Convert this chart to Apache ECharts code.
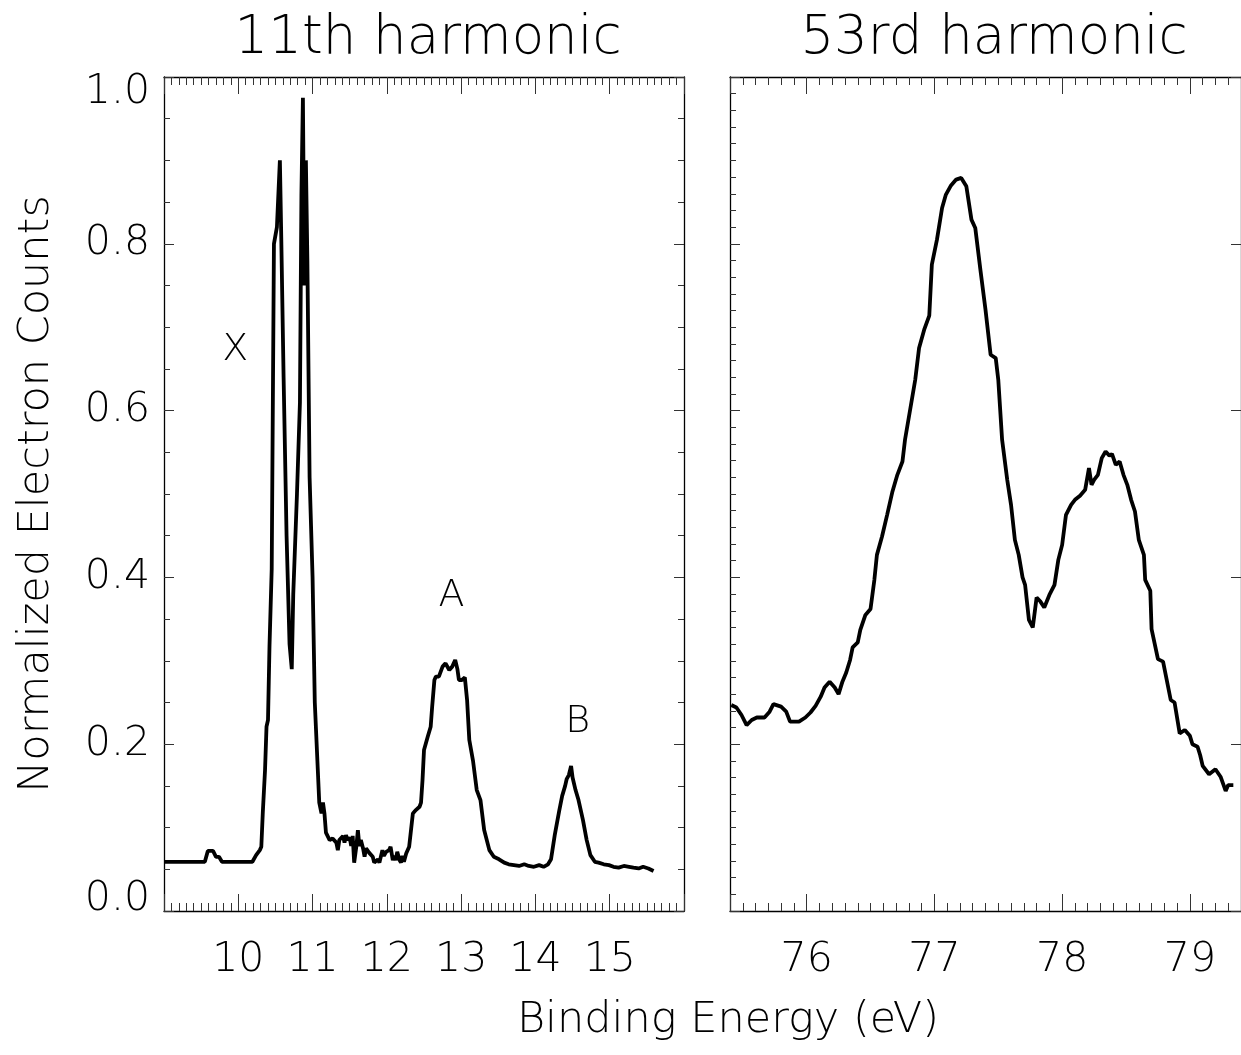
<!DOCTYPE html>
<html>
<head>
<meta charset="utf-8">
<script src="https://cdn.jsdelivr.net/npm/echarts@6/dist/echarts.min.js"></script>
<style>
html,body{margin:0;padding:0;background:#fff;}
#chart{width:1241px;height:1055px;}
</style>
</head>
<body>
<div id="chart"></div>
<script>
// ---- data ----
const panelTitles = ['11th harmonic', '53rd harmonic'];
const xAxisName = 'Binding Energy (eV)';
const yAxisName = 'Normalized Electron Counts';

const leftE = [9.00,9.55,9.59,9.66,9.70,9.74,9.78,10.19,10.24,10.29,10.31,10.33,10.36,10.38,10.40,10.42,10.45,10.48,10.52,10.56,10.58,10.61,10.65,10.69,10.72,10.74,10.79,10.83,10.85,10.87,10.89,10.91,10.93,10.96,11.00,11.03,11.07,11.09,11.12,11.14,11.16,11.18,11.23,11.27,11.32,11.34,11.36,11.41,11.43,11.45,11.47,11.50,11.52,11.54,11.56,11.59,11.61,11.63,11.65,11.68,11.70,11.72,11.76,11.81,11.83,11.88,11.90,11.94,11.96,11.99,12.03,12.05,12.08,12.10,12.12,12.14,12.17,12.19,12.21,12.23,12.26,12.30,12.32,12.35,12.39,12.44,12.46,12.48,12.50,12.55,12.59,12.61,12.64,12.66,12.70,12.75,12.79,12.84,12.88,12.92,12.95,12.97,13.01,13.05,13.08,13.11,13.16,13.21,13.26,13.31,13.38,13.44,13.51,13.58,13.64,13.71,13.78,13.85,13.91,13.98,14.05,14.11,14.17,14.21,14.26,14.32,14.36,14.40,14.42,14.45,14.48,14.50,14.54,14.58,14.64,14.69,14.74,14.80,14.85,14.92,14.99,15.05,15.12,15.19,15.26,15.32,15.39,15.45,15.52,15.59];
const leftV = [0.059,0.059,0.072,0.072,0.065,0.065,0.059,0.059,0.067,0.073,0.077,0.118,0.169,0.221,0.229,0.317,0.41,0.80,0.82,0.90,0.80,0.64,0.45,0.32,0.29,0.38,0.50,0.61,0.86,0.975,0.75,0.90,0.78,0.52,0.40,0.25,0.17,0.13,0.117,0.13,0.117,0.094,0.085,0.087,0.082,0.073,0.085,0.09,0.082,0.091,0.085,0.088,0.078,0.09,0.058,0.078,0.097,0.078,0.085,0.075,0.065,0.075,0.07,0.065,0.058,0.062,0.058,0.073,0.066,0.071,0.073,0.077,0.061,0.066,0.061,0.071,0.061,0.058,0.066,0.059,0.069,0.077,0.093,0.117,0.121,0.125,0.13,0.157,0.193,0.209,0.221,0.245,0.277,0.281,0.281,0.293,0.297,0.289,0.293,0.301,0.29,0.277,0.277,0.28,0.253,0.205,0.18,0.145,0.133,0.097,0.073,0.065,0.062,0.058,0.056,0.055,0.054,0.056,0.054,0.053,0.055,0.053,0.056,0.062,0.091,0.12,0.138,0.15,0.158,0.163,0.174,0.16,0.145,0.133,0.109,0.085,0.067,0.059,0.058,0.056,0.055,0.053,0.052,0.054,0.053,0.052,0.051,0.053,0.051,0.048];

const rightE = [75.41,75.45,75.49,75.53,75.57,75.61,75.67,75.71,75.74,75.80,75.84,75.87,75.94,75.99,76.03,76.07,76.11,76.14,76.18,76.22,76.25,76.28,76.31,76.34,76.36,76.40,76.42,76.46,76.50,76.53,76.55,76.59,76.63,76.67,76.71,76.75,76.77,76.81,76.85,76.88,76.92,76.96,76.98,77.02,77.06,77.09,77.13,77.17,77.21,77.25,77.29,77.32,77.36,77.40,77.44,77.48,77.50,77.53,77.57,77.60,77.63,77.66,77.69,77.71,77.74,77.77,77.80,77.83,77.86,77.90,77.94,77.97,78.00,78.03,78.07,78.10,78.14,78.18,78.21,78.23,78.25,78.28,78.31,78.34,78.37,78.39,78.42,78.45,78.48,78.51,78.54,78.57,78.60,78.64,78.65,78.69,78.70,78.75,78.79,78.85,78.88,78.92,78.96,79.00,79.02,79.06,79.08,79.10,79.15,79.20,79.24,79.28,79.30,79.34];
const rightV = [0.247,0.244,0.235,0.223,0.229,0.232,0.232,0.239,0.248,0.245,0.239,0.227,0.227,0.232,0.238,0.246,0.257,0.268,0.275,0.268,0.26,0.275,0.286,0.301,0.316,0.322,0.337,0.355,0.362,0.397,0.427,0.449,0.475,0.502,0.523,0.539,0.565,0.601,0.637,0.675,0.697,0.714,0.775,0.805,0.843,0.859,0.87,0.877,0.879,0.869,0.829,0.819,0.769,0.721,0.667,0.663,0.637,0.565,0.517,0.487,0.445,0.427,0.40,0.391,0.349,0.34,0.376,0.371,0.364,0.379,0.391,0.421,0.439,0.475,0.487,0.493,0.498,0.505,0.531,0.511,0.517,0.523,0.543,0.551,0.546,0.548,0.535,0.539,0.523,0.511,0.493,0.479,0.445,0.427,0.397,0.384,0.338,0.302,0.299,0.253,0.25,0.213,0.217,0.21,0.2,0.197,0.187,0.174,0.164,0.17,0.161,0.144,0.151,0.151];

const annoNames = ['X', 'A', 'B'];
const annoE = [9.96, 12.87, 14.57];
const annoV = [0.673, 0.377, 0.227];

const leftXTicks = [10, 11, 12, 13, 14, 15];
const rightXTicks = [76, 77, 78, 79];
const yTicks = [0.0, 0.2, 0.4, 0.6, 0.8, 1.0];

// ---- chart ----
const FONT = "'DejaVu Sans', sans-serif";
const FW = 200;
const chart = echarts.init(document.getElementById('chart'), null, {renderer: 'canvas'});

const tickStyle = {color: '#333', width: 1};
const lineStyleAx = {color: '#000', width: 1.3};

function xAx(grid, pos, min, max, opts) {
  return Object.assign({
    type: 'value', gridIndex: grid, position: pos, min: min, max: max,
    axisLine: {show: true, onZero: false, lineStyle: lineStyleAx},
    splitLine: {show: false},
    axisTick: {show: true, inside: true, length: 17, lineStyle: tickStyle},
    minorTick: {show: true, splitNumber: 10, length: 8, lineStyle: tickStyle},
    axisLabel: {show: false}
  }, opts);
}
const labelText = {fontSize: 41, fontFamily: FONT, fontWeight: FW, color: '#000'};
function yAx(grid, pos, labels, minorSplit, minorShow) {
  return {
    type: 'value', gridIndex: grid, position: pos, min: 0, max: 1, interval: 0.2,
    axisLine: {show: true, onZero: false, lineStyle: lineStyleAx},
    splitLine: {show: false},
    axisTick: {show: true, inside: true, length: 10, lineStyle: tickStyle},
    minorTick: {show: minorShow, splitNumber: minorSplit, length: 6, lineStyle: tickStyle},
    axisLabel: labels ? Object.assign({
      show: true, margin: 14,
      formatter: v => {
        if (!yTicks.some(t => Math.abs(t - v) < 1e-6)) return '';
        const s = v.toFixed(1);
        if (Math.abs(v) < 1e-6) return '{lo|' + s + '}';
        if (Math.abs(v - 1) < 1e-6) return '{hi|' + s + '}';
        return s;
      },
      rich: {
        lo: Object.assign({lineHeight: 24}, labelText),
        hi: Object.assign({lineHeight: 30}, labelText)
      },
      verticalAlignMinLabel: 'bottom', verticalAlignMaxLabel: 'top'
    }, labelText) : {show: false}
  };
}

const xLabelCommon = Object.assign({
  show: true, margin: 29, showMinLabel: false, showMaxLabel: false
}, labelText);

const option = {
  animation: false,
  backgroundColor: '#fff',
  title: [
    {text: panelTitles[0], left: 423, top: 8, textAlign: 'center',
     textStyle: {fontSize: 53, fontFamily: FONT, fontWeight: FW, color: '#000'}},
    {text: panelTitles[1], left: 989, top: 8, textAlign: 'center',
     textStyle: {fontSize: 53, fontFamily: FONT, fontWeight: FW, color: '#000'}}
  ],
  grid: [
    {left: 164, top: 77, width: 520, height: 834},
    {left: 730, top: 77, width: 520, height: 834}
  ],
  xAxis: [
    xAx(0, 'bottom', 9, 16, {interval: 1, axisLabel: Object.assign({}, xLabelCommon, {
      formatter: v => leftXTicks.includes(Math.round(v)) ? String(Math.round(v)) : ''})}),
    xAx(0, 'top', 9, 16, {interval: 1}),
    xAx(1, 'bottom', 75.4, 79.4, {splitNumber: 4, axisLabel: Object.assign({}, xLabelCommon, {
      formatter: v => rightXTicks.includes(v) ? String(v) : ''})}),
    xAx(1, 'top', 75.4, 79.4, {splitNumber: 4})
  ],
  yAxis: [
    Object.assign(yAx(0, 'left', true, 4, true), {
      name: yAxisName, nameLocation: 'middle', nameGap: 106,
      nameTextStyle: {fontSize: 43, fontFamily: FONT, fontWeight: FW, color: '#000'}
    }),
    yAx(0, 'right', false, 4, true),
    yAx(1, 'left', false, 10, true),
    yAx(1, 'right', false, 10, false)
  ],
  graphic: [{
    type: 'text', x: 728, y: 1021,
    style: {text: xAxisName, fontSize: 43, fontFamily: FONT, fontWeight: FW, fill: '#000',
            textAlign: 'center', textVerticalAlign: 'middle'}
  }],
  series: [
    {
      type: 'line', xAxisIndex: 0, yAxisIndex: 0, showSymbol: false, symbol: 'none',
      data: leftE.map((e, i) => [e, leftV[i]]),
      lineStyle: {color: '#000', width: 3.8}, silent: true,
      markPoint: {
        symbol: 'circle', symbolSize: 0, silent: true,
        label: {show: true, position: 'inside', formatter: p => p.name,
                fontSize: 38, fontFamily: FONT, fontWeight: FW, color: '#000'},
        data: annoNames.map((n, i) => ({name: n, coord: [annoE[i], annoV[i]]}))
      }
    },
    {
      type: 'line', xAxisIndex: 2, yAxisIndex: 2, showSymbol: false, symbol: 'none',
      data: rightE.map((e, i) => [e, rightV[i]]),
      lineStyle: {color: '#000', width: 3.8}, silent: true
    }
  ]
};
chart.setOption(option);
</script>
</body>
</html>
